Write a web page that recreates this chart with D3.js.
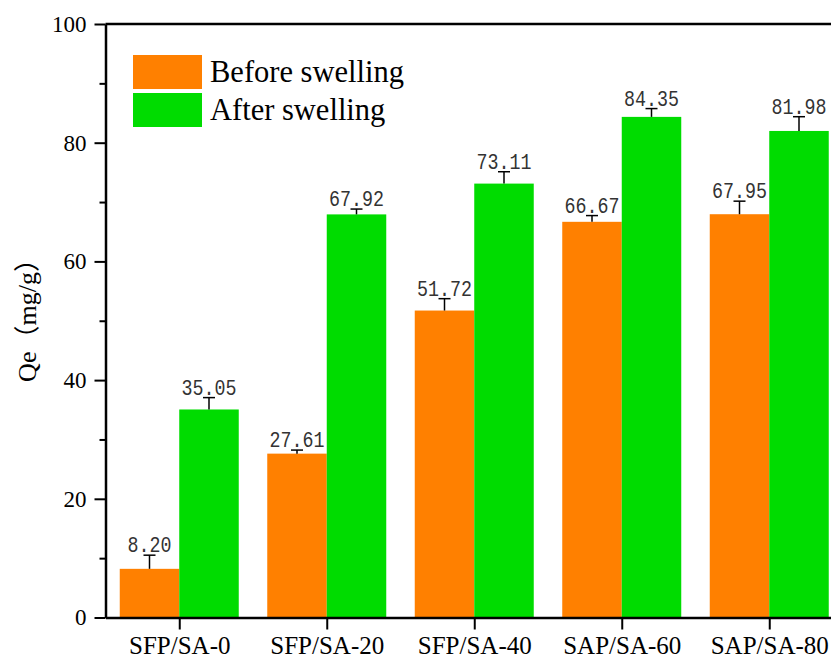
<!DOCTYPE html>
<html>
<head>
<meta charset="utf-8">
<script src="https://cdn.jsdelivr.net/npm/d3@7"></script>
<style>
  body { margin: 0; background: #fff; }
  svg { display: block; }
</style>
</head>
<body>
<div id="chart"></div>
<script>
// 데이터
const categories = ['SFP/SA-0', 'SFP/SA-20', 'SFP/SA-40', 'SAP/SA-60', 'SAP/SA-80'];
const seriesNames = ['Before swelling', 'After swelling'];
const beforeValues = [8.20, 27.61, 51.72, 66.67, 67.95];
const afterValues = [35.05, 67.92, 73.11, 84.35, 81.98];
const beforeErrors = [2.3, 0.6, 2.0, 1.05, 2.2];
const afterErrors = [2.0, 0.9, 2.0, 1.4, 2.4];
const yTicks = [0, 20, 40, 60, 80, 100];
const yMinorTicks = [10, 30, 50, 70, 90];

const colors = ['#FF8000', '#00DC00'];

const width = 831;
const height = 659;
const plotLeft = 105.5;
const plotTop = 24;
const plotBottom = 617.5;

const svg = d3.select('#chart')
    .append('svg')
    .attr('width', width)
    .attr('height', height);

// 스케일
const x = d3.scalePoint()
    .domain(categories)
    .range([plotLeft, 843])
    .padding(0.5);

const y = d3.scaleLinear()
    .domain([0, 100])
    .range([plotBottom, plotTop]);

const barW = 59.5;

const rows = categories.map((c, i) => ({
    cat: c,
    vals: [
        { s: 0, v: beforeValues[i], e: beforeErrors[i] },
        { s: 1, v: afterValues[i], e: afterErrors[i] }
    ]
}));

const groups = svg.selectAll('g.grp')
    .data(rows)
    .enter()
    .append('g')
    .attr('class', 'grp');

const items = groups.selectAll('g.item')
    .data(d => d.vals.map(v => Object.assign({ cat: d.cat }, v)))
    .enter()
    .append('g')
    .attr('class', 'item');

const bx = d => x(d.cat) + (d.s === 0 ? -barW : 0);
const cx = d => bx(d) + barW / 2;

// 막대
items.append('rect')
    .attr('x', bx)
    .attr('y', d => y(d.v))
    .attr('width', barW)
    .attr('height', d => y(0) - y(d.v))
    .attr('fill', d => colors[d.s]);

// 오차 막대 (위쪽만)
items.append('line')
    .attr('x1', cx).attr('x2', cx)
    .attr('y1', d => y(d.v))
    .attr('y2', d => y(d.v + d.e))
    .attr('stroke', '#000')
    .attr('stroke-width', 1.5);

items.append('line')
    .attr('x1', d => cx(d) - 6).attr('x2', d => cx(d) + 6)
    .attr('y1', d => y(d.v + d.e))
    .attr('y2', d => y(d.v + d.e))
    .attr('stroke', '#000')
    .attr('stroke-width', 1.5);

// 값 레이블 (글자 폭을 맞추기 위해 textLength 사용)
items.append('text')
    .attr('x', cx)
    .attr('y', d => y(d.v + d.e) - 3)
    .attr('text-anchor', 'middle')
    .attr('font-family', '"Liberation Mono", monospace')
    .attr('font-size', '22px')
    .attr('fill', '#333')
    .text(d => d.v.toFixed(2))
    .attr('textLength', d => d.v.toFixed(2).length * 11)
    .attr('lengthAdjust', 'spacingAndGlyphs');

// Y 축
const yAxis = svg.append('g')
    .attr('transform', `translate(${plotLeft},0)`)
    .call(d3.axisLeft(y).tickValues(yTicks).tickSize(11).tickSizeOuter(0).tickPadding(8));

yAxis.selectAll('text')
    .attr('font-family', '"Liberation Serif", "Times New Roman", serif')
    .attr('font-size', '23px')
    .attr('fill', '#000');

svg.append('g')
    .attr('transform', `translate(${plotLeft},0)`)
    .call(d3.axisLeft(y).tickValues(yMinorTicks).tickSize(6).tickFormat(''))
    .call(g => g.select('.domain').remove());

// X 축
const xAxis = svg.append('g')
    .attr('transform', `translate(0,${plotBottom})`)
    .call(d3.axisBottom(x).tickSize(12).tickSizeOuter(0));

xAxis.selectAll('text')
    .attr('font-family', '"Liberation Serif", "Times New Roman", serif')
    .attr('font-size', '25px')
    .attr('fill', '#000')
    .attr('y', 36.5)
    .attr('dy', 0);

svg.selectAll('.domain').attr('stroke-width', 2.5).attr('stroke', '#000');
svg.selectAll('.tick line').attr('stroke-width', 2).attr('stroke', '#000');

// 윗쪽 테두리
svg.append('line')
    .attr('x1', plotLeft).attr('x2', width)
    .attr('y1', y(100)).attr('y2', y(100))
    .attr('stroke', '#000')
    .attr('stroke-width', 2.5);

// Y 축 제목
svg.append('text')
    .attr('transform', `translate(36,314) rotate(-90)`)
    .attr('text-anchor', 'middle')
    .attr('font-family', '"Liberation Serif", "Times New Roman", "Noto Sans CJK SC", serif')
    .attr('font-size', '26px')
    .attr('fill', '#000')
    .text('Qe（mg/g）');

// 범례
const legend = svg.append('g')
    .attr('transform', 'translate(133,55)');

const legItem = legend.selectAll('g')
    .data(seriesNames)
    .enter()
    .append('g')
    .attr('transform', (d, i) => `translate(0,${i * 38})`);

legItem.append('rect')
    .attr('width', 69)
    .attr('height', 34)
    .attr('fill', (d, i) => colors[i]);

legItem.append('text')
    .attr('x', 77)
    .attr('y', 27)
    .attr('font-family', '"Liberation Serif", "Times New Roman", serif')
    .attr('font-size', '30.5px')
    .attr('fill', '#000')
    .text(d => d);
</script>
</body>
</html>
